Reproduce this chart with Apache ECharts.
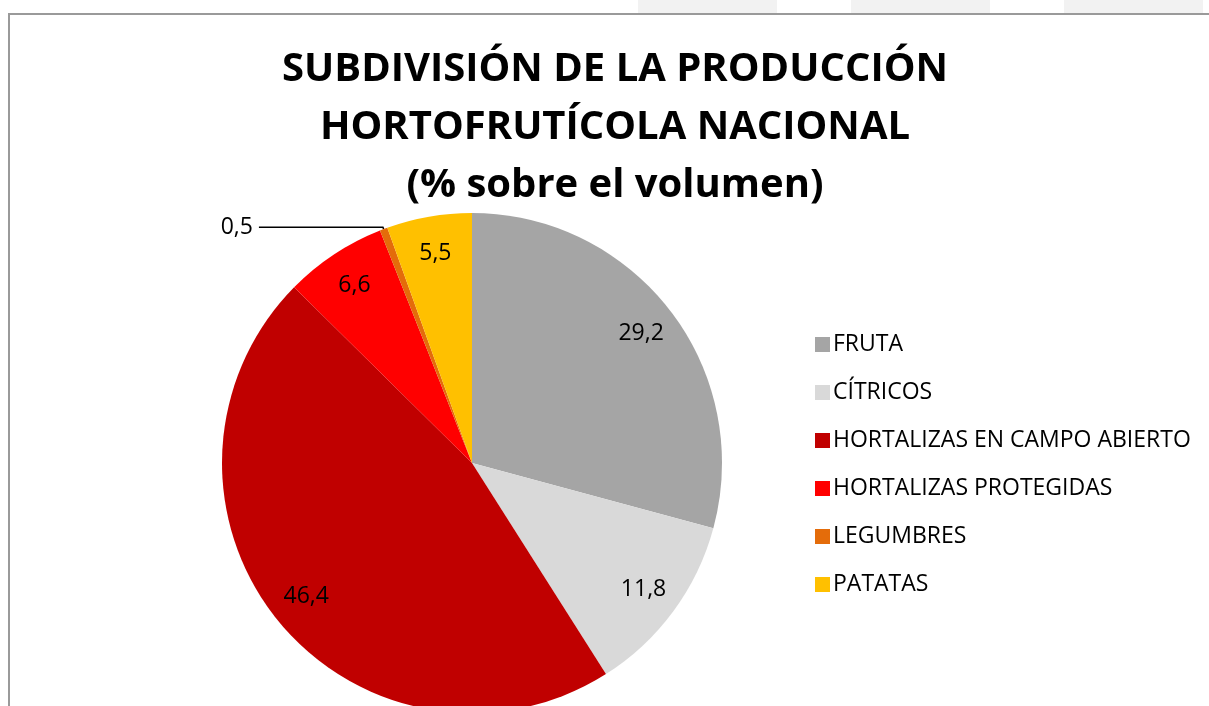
<!DOCTYPE html>
<html>
<head>
<meta charset="utf-8">
<script src="https://cdn.jsdelivr.net/npm/echarts@6/dist/echarts.min.js"></script>
<style>
  html, body { margin: 0; padding: 0; background: #fff; }
  #chart { width: 1209px; height: 706px; }
</style>
</head>
<body>
<div id="chart"></div>
<script>
const categories = ['FRUTA', 'CÍTRICOS', 'HORTALIZAS EN CAMPO ABIERTO', 'HORTALIZAS PROTEGIDAS', 'LEGUMBRES', 'PATATAS']
const values = [29.2, 11.8, 46.4, 6.6, 0.5, 5.5]
const colors = ['#A5A5A5', '#D9D9D9', '#C00000', '#FF0000', '#E46C0A', '#FFC000']

const font = '"Open Sans", "Liberation Sans", sans-serif'
const fmt = (v) => String(v).replace('.', ',')

const chart = echarts.init(document.getElementById('chart'))

// slices (only the tiny one gets an outside label)
const sliceData = categories.map((name, i) => ({
  name,
  value: values[i],
  label: { show: i === 4 },
  labelLine: { show: i === 4 },
}))

// transparent ring, used only to place the inside-end labels
const labelData = categories.map((name, i) => ({
  name,
  value: values[i],
  label: { show: i !== 4 },
}))

chart.setOption({
  backgroundColor: '#fff',
  color: colors,
  animation: false,
  title: {
    text: 'SUBDIVISIÓN DE LA PRODUCCIÓN\nHORTOFRUTÍCOLA NACIONAL\n(% sobre el volumen)',
    left: 615,
    top: 41,
    textAlign: 'center',
    padding: 0,
    textStyle: {
      fontFamily: font,
      fontSize: 40,
      fontWeight: 'bold',
      color: '#000',
      lineHeight: 58,
    },
  },
  legend: {
    orient: 'vertical',
    left: 810,
    top: 328,
    data: categories,
    icon: 'rect',
    itemWidth: 15,
    itemHeight: 15,
    itemGap: 25,
    selectedMode: false,
    textStyle: { fontFamily: font, fontSize: 23, color: '#000', lineHeight: 23, padding: [0, 0, 0, -2] },
  },
  graphic: [
    { type: 'rect', shape: { x: 638, y: 0, width: 139, height: 13 }, style: { fill: '#F2F2F2' } },
    { type: 'rect', shape: { x: 851, y: 0, width: 139, height: 13 }, style: { fill: '#F2F2F2' } },
    { type: 'rect', shape: { x: 1064, y: 0, width: 139, height: 13 }, style: { fill: '#F2F2F2' } },
    { type: 'line', shape: { x1: 9, y1: 14, x2: 1209, y2: 14 }, style: { stroke: '#9A9A9A', lineWidth: 2 } },
    { type: 'line', shape: { x1: 9, y1: 13, x2: 9, y2: 706 }, style: { stroke: '#9A9A9A', lineWidth: 2 } },
  ],
  series: [
    {
      type: 'pie',
      center: [472, 463],
      radius: [0, 250],
      startAngle: 90,
      clockwise: true,
      avoidLabelOverlap: false,
      itemStyle: { borderWidth: 0 },
      emphasis: { disabled: true },
      label: {
        position: 'outside',
        formatter: (p) => fmt(p.value),
        fontFamily: font,
        fontSize: 23,
        color: '#000',
        distanceToLabelLine: 6,
      },
      labelLine: {
        length: 2,
        length2: 124,
        smooth: false,
        lineStyle: { color: '#000', width: 1.5 },
      },
      data: sliceData,
    },
    {
      type: 'pie',
      center: [472, 463],
      radius: [170, 250],
      startAngle: 90,
      clockwise: true,
      silent: true,
      avoidLabelOverlap: false,
      itemStyle: { color: 'transparent', borderWidth: 0 },
      label: {
        position: 'inside',
        formatter: (p) => fmt(p.value),
        fontFamily: font,
        fontSize: 23,
        color: '#000',
      },
      labelLine: { show: false },
      data: labelData,
    },
  ],
})
</script>
</body>
</html>
